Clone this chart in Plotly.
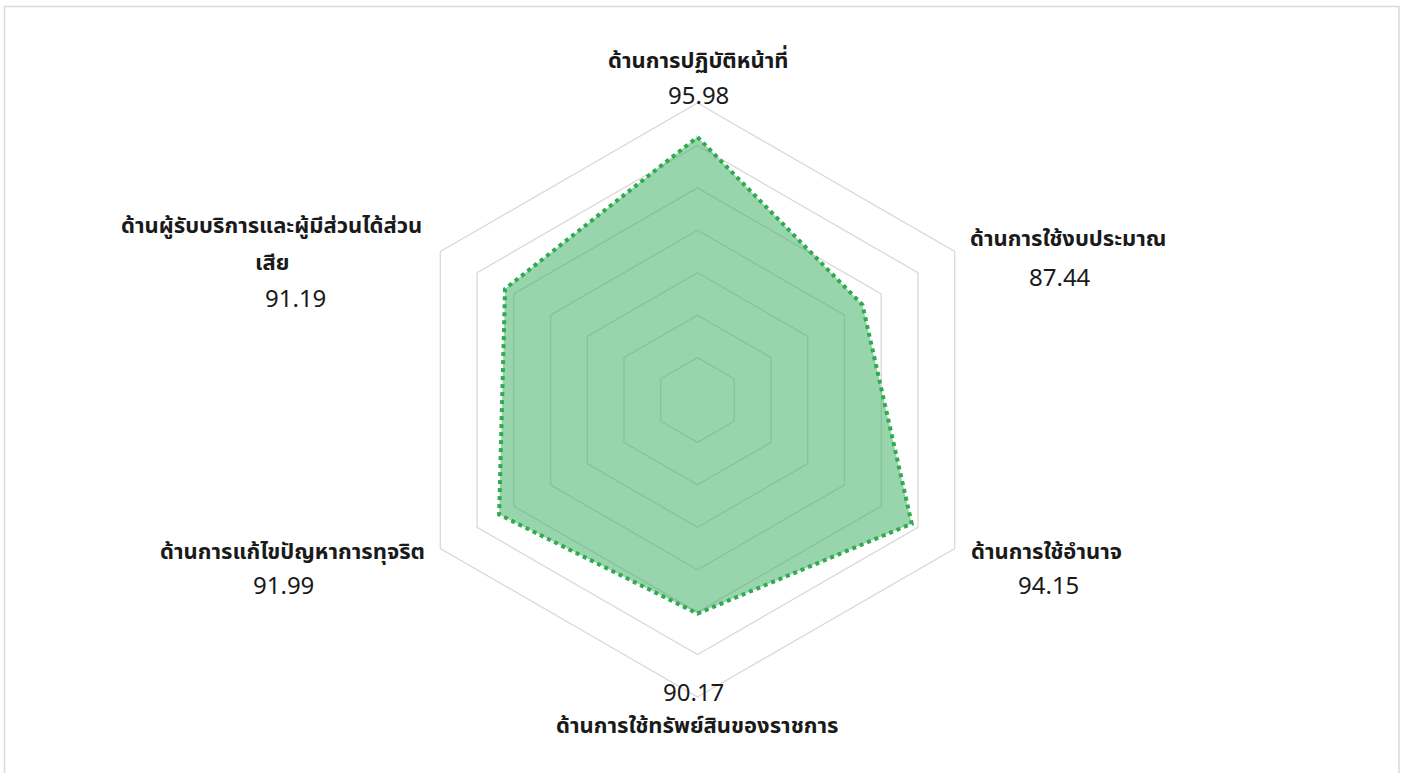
import plotly.graph_objects as go

categories = [
    "ด้านการปฏิบัติหน้าที่",
    "ด้านการใช้งบประมาณ",
    "ด้านการใช้อำนาจ",
    "ด้านการใช้ทรัพย์สินของราชการ",
    "ด้านการแก้ไขปัญหาการทุจริต",
    "ด้านผู้รับบริการและผู้มีส่วนได้ส่วน<br>เสีย",
]
values = [95.98, 87.44, 94.15, 90.17, 91.99, 91.19]
value_labels = ["95.98", "87.44", "94.15", "90.17", "91.99", "91.19"]
radial_ticks = [65, 70, 75, 80, 85, 90, 95, 100]

W, H = 1404, 773
FONT = "Tahoma, 'Leelawadee UI', 'Noto Sans Thai', 'Noto Sans', sans-serif"
TXT = "#1a1a1a"

fig = go.Figure()
fig.add_trace(go.Scatterpolar(
    r=values + values[:1],
    theta=categories + categories[:1],
    mode="lines",
    fill="toself",
    fillcolor="rgba(60,175,95,0.52)",
    line=dict(color="#2eab4f", width=4, dash="4px,4px"),
    hoverinfo="skip",
))

# label positions (pixel centres in the page): label lines, value
label_pos = [
    ([(698, 62)], (698, 97)),
    ([(1068, 240)], (1060, 279)),
    ([(1046, 552)], (1048, 587)),
    ([(697, 726)], (693, 694)),
    ([(292, 552)], (283, 587)),
    ([(271, 226), (272, 263)], (295, 300)),
]


def px(x, y):
    return x / W, 1 - y / H


annotations = []
for cat, val, (lines, (vx, vy)) in zip(categories, value_labels, label_pos):
    parts = cat.split("<br>")
    for part, (lx, ly) in zip(parts, lines):
        ax, ay = px(lx, ly)
        annotations.append(dict(
            x=ax, y=ay, xref="paper", yref="paper",
            text="<b>" + part + "</b>", showarrow=False, xanchor="center", yanchor="middle",
            font=dict(family=FONT, size=22, color=TXT),
        ))
    ax, ay = px(vx, vy)
    annotations.append(dict(
        x=ax, y=ay, xref="paper", yref="paper",
        text=val, showarrow=False, xanchor="center", yanchor="middle",
        font=dict(family=FONT, size=24, color=TXT),
    ))

cx, cy, R = 697.5, 400, 297
fig.update_layout(
    width=W, height=H,
    margin=dict(l=0, r=0, t=0, b=0),
    paper_bgcolor="white",
    showlegend=False,
    polar=dict(
        domain=dict(x=[(cx - R) / W, (cx + R) / W], y=[1 - (cy + R) / H, 1 - (cy - R) / H]),
        bgcolor="white",
        gridshape="linear",
        radialaxis=dict(
            range=[radial_ticks[0], radial_ticks[-1]],
            tickvals=radial_ticks,
            showticklabels=False, ticks="", showline=False,
            gridcolor="#d9d9d9", gridwidth=1.3,
        ),
        angularaxis=dict(
            direction="clockwise", rotation=90,
            showticklabels=False, ticks="", showgrid=False,
            showline=True, linecolor="#d9d9d9", linewidth=1.3,
        ),
    ),
    annotations=annotations,
    shapes=[dict(
        type="rect", xref="paper", yref="paper",
        x0=4.5 / W, x1=1399 / W, y0=-0.01, y1=1 - 6.5 / H,
        line=dict(color="#d9d9d9", width=1.5),
    )],
)

fig.write_html(
    "out.html",
    config={"displayModeBar": False, "staticPlot": True},
    post_script="document.body.style.margin='0';",
)
